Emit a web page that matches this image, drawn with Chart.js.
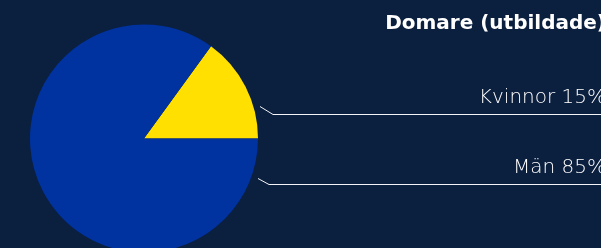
<!DOCTYPE html>
<html>
<head>
<meta charset="utf-8">
<script src="https://cdn.jsdelivr.net/npm/chart.js@4"></script>
<style>
  html, body { margin: 0; padding: 0; background: #0b1f3e; overflow: hidden; }
  #wrap { position: relative; width: 601px; height: 277px; }
</style>
</head>
<body>
<div id="wrap"><canvas id="pie"></canvas></div>
<script>
const title = "Domare (utbildade)";
const categories = ["Kvinnor", "Män"];
const shares = [15, 85];
const colors = ["#ffe000", "#0033a0"];
const labelRows = [114, 184];

const el = id => document.getElementById(id);
const font = "'DejaVu Sans', sans-serif";

// leader lines + labels on the right side
const sideLabels = {
  id: "sideLabels",
  afterDraw(chart) {
    const ctx = chart.ctx;
    const arc = chart.getDatasetMeta(0).data[0];
    const cx = arc.x, r = arc.outerRadius;
    ctx.save();
    ctx.fillStyle = "#ffffff";
    ctx.textAlign = "right";
    ctx.textBaseline = "alphabetic";
    ctx.font = `bold 20px ${font}`;
    ctx.fillText(title, 606, 29);
    ctx.font = `200 20px ${font}`;
    ctx.strokeStyle = "#f2f4f8";
    ctx.lineWidth = 1;
    categories.forEach((name, i) => {
      const y = labelRows[i] + 0.5;
      const x0 = cx + r + 2 - i * 2;
      ctx.beginPath();
      ctx.moveTo(x0, y - 8 + i * 2);
      ctx.lineTo(x0 + 13 - i * 2, y);
      ctx.lineTo(601, y);
      ctx.stroke();
      ctx.fillText(`${name} ${shares[i]}%`, 606, y - 12);
    });
    ctx.restore();
  }
};

new Chart(el("pie"), {
  type: "pie",
  data: {
    labels: categories,
    datasets: [{ data: shares, backgroundColor: colors, borderWidth: 0 }]
  },
  options: {
    responsive: true,
    maintainAspectRatio: false,
    animation: false,
    rotation: 36,
    layout: { padding: { left: 30, top: 24, right: 343, bottom: 24 } },
    plugins: { legend: { display: false }, tooltip: { enabled: false } }
  },
  plugins: [sideLabels]
});
</script>
</body>
</html>
